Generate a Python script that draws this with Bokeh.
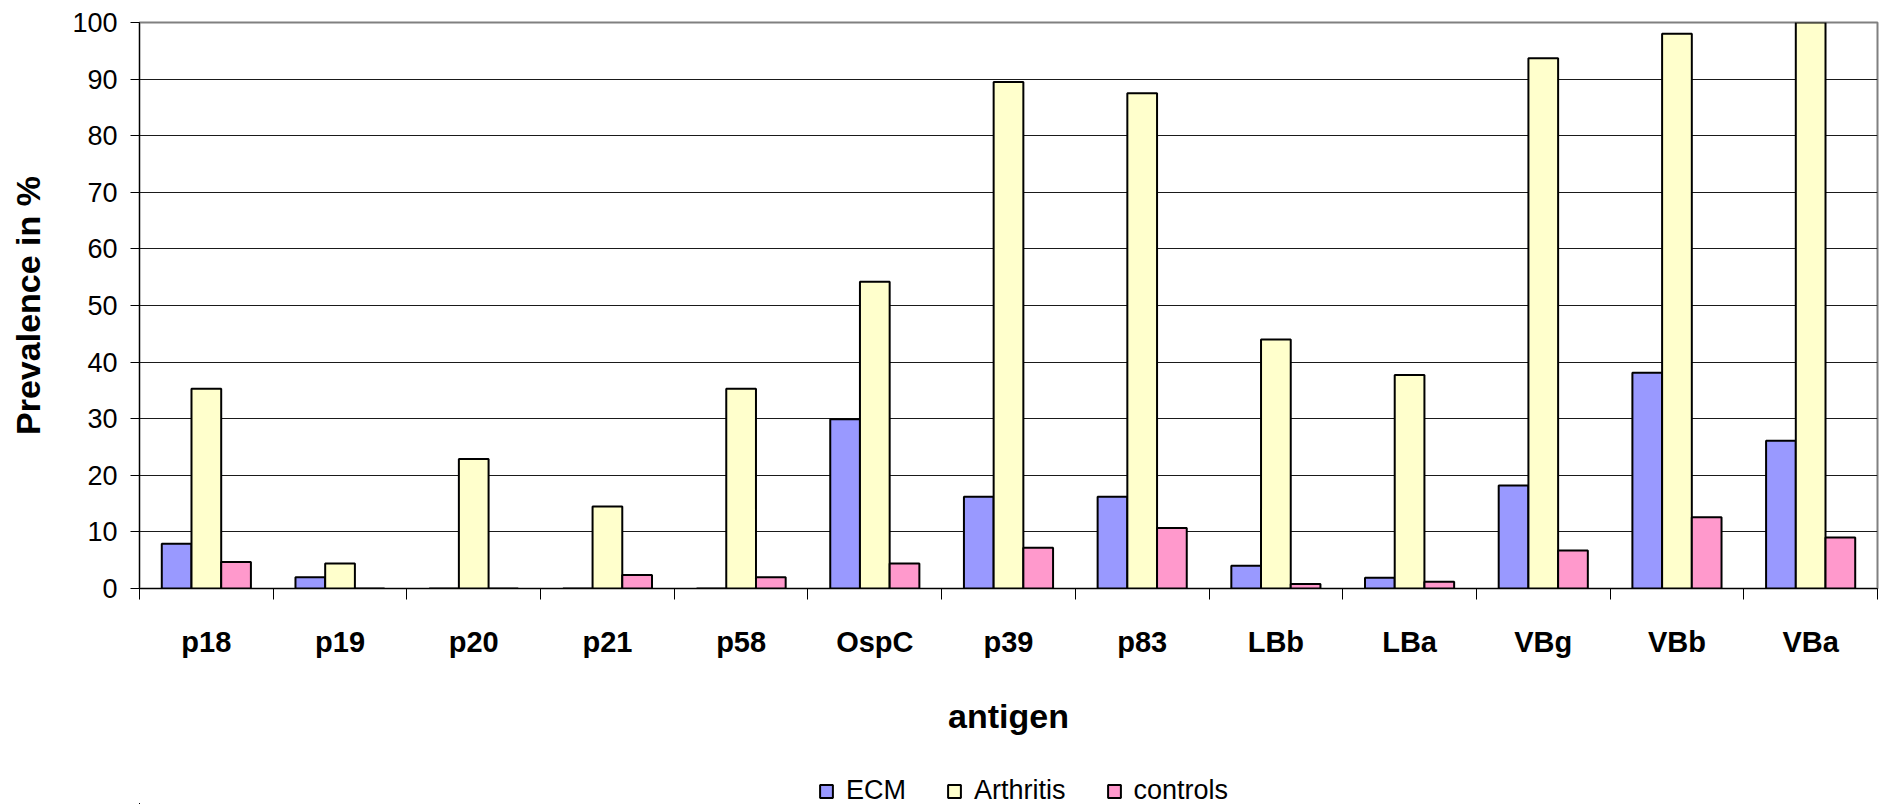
from bokeh.plotting import figure
from bokeh.layouts import column
from bokeh.models import (ColumnDataSource, Range1d, LinearAxis,
                          FixedTicker, SingleIntervalTicker, Legend, LegendItem)
from bokeh.transform import dodge
from bokeh.embed import file_html
from bokeh.resources import INLINE

antigens = ["p18", "p19", "p20", "p21", "p58", "OspC", "p39", "p83", "LBb", "LBa", "VBg", "VBb", "VBa"]
ecm = [7.9, 2.0, 0.0, 0.0, 0.0, 29.9, 16.2, 16.2, 4.0, 1.9, 18.2, 38.1, 26.1]
arthritis = [35.3, 4.4, 22.9, 14.5, 35.3, 54.2, 89.5, 87.5, 44.0, 37.7, 93.7, 98.0, 100.0]
controls = [4.7, 0.0, 0.0, 2.4, 2.0, 4.4, 7.2, 10.7, 0.8, 1.2, 6.7, 12.6, 9.0]
series_names = ["ECM", "Arthritis", "controls"]
series_colors = ["#9999FF", "#FFFFCC", "#FF99CC"]
y_ticks_step = 10

FONT = "Liberation Sans"
BAR_W = 1.0 / 4.5
n = len(antigens)
centers = [i + 0.5 for i in range(n)]

src = ColumnDataSource(dict(pos=centers, antigen=antigens, ECM=ecm, Arthritis=arthritis, controls=controls))

p = figure(width=1879, height=766, x_range=Range1d(0, n),
           y_range=Range1d(0, 100), x_axis_location=None,
           output_backend="svg", toolbar_location=None, tools="")
p.min_border_left = 139
p.min_border_right = 2
p.min_border_top = 22
p.min_border_bottom = 178
p.outline_line_color = "#808080"
p.outline_line_width = 2
p.background_fill_color = "white"
for g in p.xgrid:
    g.grid_line_color = None

for i, (name, col) in enumerate(zip(series_names, series_colors)):
    p.vbar(x=dodge("pos", (i - 1) * BAR_W), top=name, width=BAR_W,
           bottom=0, source=src, fill_color=col, line_color="black", line_width=2)

# y axis
ya = p.yaxis[0]
ya.ticker = SingleIntervalTicker(interval=y_ticks_step)
ya.axis_label = "Prevalence in %"
ya.axis_label_text_font = FONT
ya.axis_label_text_font_style = "bold"
ya.axis_label_text_font_size = "34px"
ya.axis_label_text_color = "black"
ya.axis_label_standoff = 22
ya.major_label_text_font = FONT
ya.major_label_text_font_size = "27px"
ya.major_label_text_color = "black"
ya.major_label_standoff = 13
ya.major_tick_out = 9
ya.major_tick_in = 0
ya.minor_tick_line_color = None
ya.axis_line_color = "black"
ya.major_tick_line_color = "black"

p.ygrid.grid_line_color = "#1a1a1a"
p.ygrid.grid_line_width = 1

# x boundary ticks
tick_axis = LinearAxis(ticker=FixedTicker(ticks=list(range(n + 1))),
                       major_label_overrides={k: "" for k in range(n + 1)},
                       major_tick_out=11, major_tick_in=0, minor_tick_line_color=None,
                       major_label_standoff=0, major_label_text_font_size="1px",
                       axis_line_color="black", major_tick_line_color="black")
p.add_layout(tick_axis, "below")

# category labels
cat_axis = LinearAxis(ticker=FixedTicker(ticks=centers),
                      major_label_overrides={c: a for c, a in zip(centers, antigens)},
                      major_tick_line_color=None, axis_line_color=None, minor_tick_line_color=None,
                      major_label_text_font=FONT, major_label_text_font_style="bold",
                      major_label_text_font_size="29px", major_label_text_color="black",
                      major_label_standoff=20,
                      axis_label="antigen", axis_label_text_font=FONT, axis_label_text_color="black",
                      axis_label_text_font_style="bold", axis_label_text_font_size="34px",
                      axis_label_standoff=36)
p.add_layout(cat_axis, "below")

# legend strip (its swatches come from the same series, drawn off-range)
pl = figure(width=1879, height=38, x_range=Range1d(1000, 1001), y_range=Range1d(1000, 1001),
            x_axis_location=None, y_axis_location=None,
            output_backend="svg", toolbar_location=None, tools="")
pl.min_border_left = 0
pl.min_border_right = 0
pl.min_border_top = 0
pl.min_border_bottom = 0
pl.outline_line_color = None
pl.xgrid.grid_line_color = None
pl.ygrid.grid_line_color = None
leg_renderers = []
for i, (name, col) in enumerate(zip(series_names, series_colors)):
    r = pl.vbar(x="pos", top=name, width=BAR_W, bottom=0, source=src,
                fill_color=col, line_color="black", line_width=2)
    leg_renderers.append(r)

legend = Legend(items=[LegendItem(label=s, renderers=[r]) for s, r in zip(series_names, leg_renderers)],
                orientation="horizontal", location=(679, -2), padding=0, margin=0,
                spacing=40, glyph_width=16, glyph_height=16, label_standoff=12,
                label_text_font=FONT, label_text_font_size="27px", label_text_color="black",
                border_line_color=None, background_fill_alpha=0)
pl.add_layout(legend)

layout = column(p, pl, spacing=0)
open("out.html", "w").write(file_html(layout, INLINE))
